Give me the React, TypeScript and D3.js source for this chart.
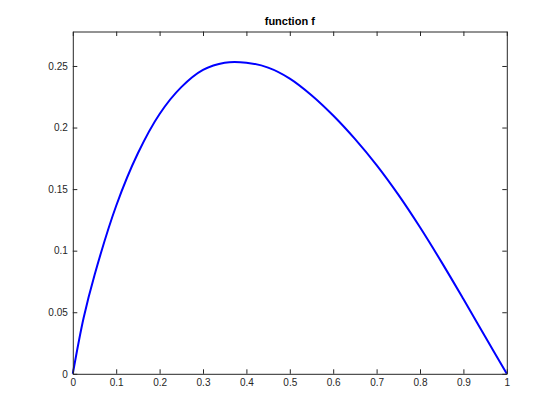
import React, { useRef, useEffect } from 'react'
import * as d3 from 'd3'

// readings taken off the plotted curve
const xValues = [0, 0.025, 0.05, 0.1, 0.15, 0.2, 0.25, 0.3, 0.35, 0.4, 0.45, 0.5, 0.55, 0.6, 0.65, 0.7, 0.75, 0.8, 0.85, 0.9, 0.95, 1]
const fValues = [0, 0.0455, 0.0801, 0.1365, 0.1791, 0.211, 0.2328, 0.2468, 0.2527, 0.2527, 0.2487, 0.2398, 0.2263, 0.2098, 0.1908, 0.1695, 0.1455, 0.119, 0.0905, 0.0607, 0.0303, 0]

const xTicks = [0, 0.1, 0.2, 0.3, 0.4, 0.5, 0.6, 0.7, 0.8, 0.9, 1]
const yTicks = [0, 0.05, 0.1, 0.15, 0.2, 0.25]
const title = 'function f'

export default function App() {
  const svgRef = useRef<SVGSVGElement>(null)

  useEffect(() => {
    const width = 560
    const height = 420
    const left = 72.8
    const right = 506.8
    const top = 31.5
    const bottom = 373.8
    const ink = '#262626'
    const font = '"Liberation Sans", Arial, Helvetica, sans-serif'

    const svg = d3.select(svgRef.current)
    svg.selectAll('*').remove()
    svg.attr('width', width).attr('height', height)

    svg.append('rect').attr('width', width).attr('height', height).attr('fill', '#fff')

    const x = d3.scaleLinear().domain([0, 1]).range([left, right])
    const y = d3.scaleLinear().domain([0, 0.278]).range([bottom, top])

    const points = xValues.map((v, i) => [v, fValues[i]] as [number, number])

    // curve
    const line = d3.line<[number, number]>()
      .x(d => x(d[0]))
      .y(d => y(d[1]))
      .curve(d3.curveCatmullRom.alpha(0.5))

    svg.append('path')
      .datum(points)
      .attr('d', line)
      .attr('fill', 'none')
      .attr('stroke', '#0000ff')
      .attr('stroke-width', 2)
      .attr('stroke-linejoin', 'round')

    const tickLen = 4.5

    // axes box with inward ticks on all sides
    const axisStyle = (g: d3.Selection<SVGGElement, unknown, null, undefined>) => {
      g.select('.domain').attr('stroke', ink).attr('stroke-width', 1)
      g.selectAll('.tick line').attr('stroke', ink).attr('stroke-width', 1)
      g.selectAll('.tick text')
        .attr('fill', ink)
        .style('font-family', font)
        .style('font-size', '10px')
    }

    const fmt = (d: d3.NumberValue) => String(+d)

    svg.append('g')
      .attr('transform', `translate(0,${bottom})`)
      .call(d3.axisBottom(x).tickValues(xTicks).tickFormat(fmt).tickSizeInner(-tickLen).tickSizeOuter(0).tickPadding(5))
      .call(axisStyle)

    svg.append('g')
      .attr('transform', `translate(0,${top})`)
      .call(d3.axisTop(x).tickValues(xTicks).tickFormat(() => '').tickSizeInner(-tickLen).tickSizeOuter(0))
      .call(axisStyle)

    svg.append('g')
      .attr('transform', `translate(${left},0)`)
      .call(d3.axisLeft(y).tickValues(yTicks).tickFormat(fmt).tickSizeInner(-tickLen).tickSizeOuter(0).tickPadding(5))
      .call(axisStyle)

    svg.append('g')
      .attr('transform', `translate(${right},0)`)
      .call(d3.axisRight(y).tickValues(yTicks).tickFormat(() => '').tickSizeInner(-tickLen).tickSizeOuter(0))
      .call(axisStyle)

    svg.append('text')
      .attr('x', (left + right) / 2)
      .attr('y', 25)
      .attr('text-anchor', 'middle')
      .attr('fill', '#000')
      .style('font-family', font)
      .style('font-size', '11px')
      .style('font-weight', 'bold')
      .text(title)
  }, [])

  return (
    <div style={{ position: 'absolute', left: 0, top: 0 }}>
      <svg ref={svgRef} style={{ display: 'block' }} />
    </div>
  )
}
